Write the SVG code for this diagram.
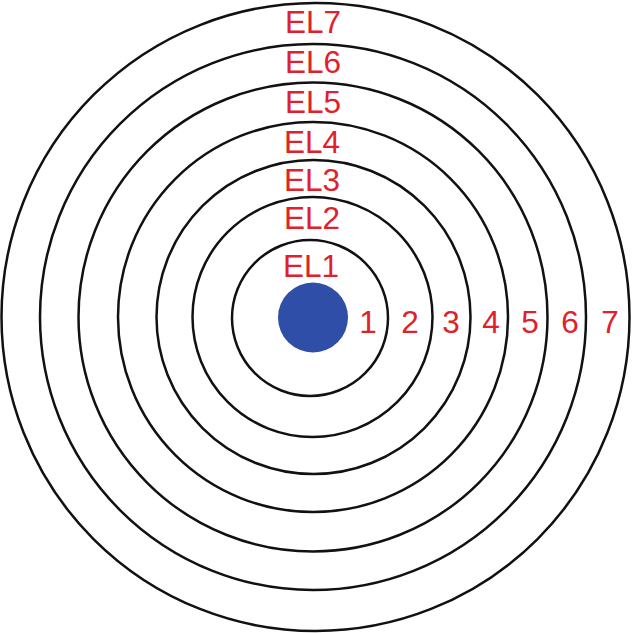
<svg xmlns="http://www.w3.org/2000/svg" width="633" height="633" viewBox="0 0 633 633">
<style>
.ring{fill:none;stroke:#111;stroke-width:2.5}
.lbl{font-family:"Liberation Sans",Arial,sans-serif;font-size:31.5px;fill:#e0202a;text-anchor:middle}
</style>
<rect width="633" height="633" fill="#fff"/>
<g id="rings">
<circle id="ring7" class="ring" cx="315.5" cy="317" r="314"/>
<circle id="ring6" class="ring" cx="313" cy="317" r="273"/>
<circle id="ring5" class="ring" cx="313" cy="317" r="234.5"/>
<circle id="ring4" class="ring" cx="313" cy="317" r="195"/>
<circle id="ring3" class="ring" cx="313.5" cy="317" r="157"/>
<circle id="ring2" class="ring" cx="312.5" cy="317" r="120"/>
<circle id="ring1" class="ring" cx="310" cy="318" r="78"/>
</g>
<g id="core"><circle cx="313" cy="317.5" r="35" fill="#2f4ea8"/></g>
<g id="labels">
<text class="lbl" x="313" y="33">EL7</text>
<text class="lbl" x="313" y="73">EL6</text>
<text class="lbl" x="313" y="113">EL5</text>
<text class="lbl" x="312" y="153">EL4</text>
<text class="lbl" x="312" y="191">EL3</text>
<text class="lbl" x="312" y="229">EL2</text>
<text class="lbl" x="311" y="277">EL1</text>
<text class="lbl" x="368" y="333">1</text>
<text class="lbl" x="410" y="333">2</text>
<text class="lbl" x="451" y="333">3</text>
<text class="lbl" x="491" y="333">4</text>
<text class="lbl" x="530" y="333">5</text>
<text class="lbl" x="570" y="333">6</text>
<text class="lbl" x="610" y="333">7</text>
</g>
</svg>
